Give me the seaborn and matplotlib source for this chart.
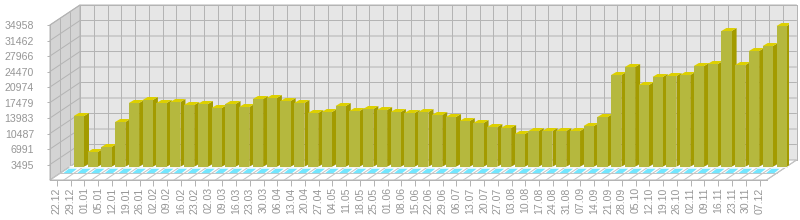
"""Weekly counts drawn as a fake-3D bar chart, with seaborn bars plus hand-made walls."""

import matplotlib
matplotlib.use("Agg")
import matplotlib.pyplot as plt
from matplotlib.patches import Polygon
import pandas as pd
import seaborn as sns

weeks = [
    "22.12", "29.12", "01.01", "05.01", "12.01", "19.01", "26.01", "02.02", "09.02", "16.02",
    "23.02", "02.03", "09.03", "16.03", "23.03", "30.03", "06.04", "13.04", "20.04", "27.04",
    "04.05", "11.05", "18.05", "25.05", "01.06", "08.06", "15.06", "22.06", "29.06", "06.07",
    "13.07", "20.07", "27.07", "03.08", "10.08", "17.08", "24.08", "31.08", "07.09", "14.09",
    "21.09", "28.09", "05.10", "12.10", "19.10", "26.10", "02.11", "09.11", "16.11", "23.11",
    "30.11", "07.12",
]
counts = [
    11433, 3315, 4442, 10080, 14364, 15041, 14364, 14590, 13913, 14139,
    13237, 14139, 13462, 15266, 15492, 14815, 14364, 12109, 12335, 13688,
    12560, 13011, 12786, 12335, 12109, 12335, 11658, 11207, 10305, 9854,
    8952, 8727, 7374, 8050, 8050, 8050, 8050, 9178, 11207, 20678,
    22482, 18423, 20227, 20453, 20678, 22708, 23159, 30600, 22933, 26090,
    27218, 31728,
]
y_ticks = [3495, 6991, 10487, 13983, 17479, 20974, 24470, 27966, 31462, 34958]

W, H = 800, 220
GRID = "#b4b4b4"
FLOOR_GRID = "#c4c4c4"
TEXT = "#969696"
FRONT = "#b5b83e"
TOP = "#ddd000"
SIDE = "#a39b00"
SHADOW = "#72e6ff"
PX = 0.72  # one pixel in points

sns.set_style("white")
plt.rcParams["font.family"] = ["Liberation Sans", "DejaVu Sans"]

df = pd.DataFrame({"week": weeks, "count": counts})
fig = plt.figure(figsize=(W / 100, H / 100), dpi=100, facecolor="white")


def pix_axes(left, top, right, bottom):
    return fig.add_axes([left / W, 1 - bottom / H, (right - left) / W, (bottom - top) / H])


# pixel canvas for walls and floor
bg = pix_axes(0, 0, W, H)
bg.set_xlim(0, W)
bg.set_ylim(H, 0)
bg.axis("off")

# front plane carries the ticks, bars sit on a plane shifted into the depth
LEFT, RIGHT, TOP_Y, BOTTOM_Y = 50, 766.5, 25, 180
DX, DY = 30, 20
step = (RIGHT - LEFT) / len(weeks)
unit = (BOTTOM_Y - TOP_Y) / y_ticks[-1]

bg.add_patch(Polygon([(LEFT + DX, TOP_Y - DY), (RIGHT + DX, TOP_Y - DY), (RIGHT + DX, BOTTOM_Y - DY), (LEFT + DX, BOTTOM_Y - DY)],
                     fc="#e6e6e6", ec=GRID, lw=PX))
bg.add_patch(Polygon([(LEFT, TOP_Y), (LEFT + DX, TOP_Y - DY), (LEFT + DX, BOTTOM_Y - DY), (LEFT, BOTTOM_Y)],
                     fc="#d4d4d4", ec=GRID, lw=PX))
bg.add_patch(Polygon([(LEFT, BOTTOM_Y), (LEFT + DX, BOTTOM_Y - DY), (RIGHT + DX, BOTTOM_Y - DY), (RIGHT, BOTTOM_Y)],
                     fc="white", ec=GRID, lw=PX))

for v in y_ticks:
    py = BOTTOM_Y - v * unit
    bg.plot([LEFT, LEFT + DX, RIGHT + DX], [py, py - DY, py - DY], color=GRID, lw=PX)
for frac in (1 / 3, 2 / 3):
    bg.plot([LEFT + DX * frac] * 2, [TOP_Y - DY * frac, BOTTOM_Y - DY * frac], color=GRID, lw=PX)
    bg.plot([LEFT + DX * frac, RIGHT + DX * frac], [BOTTOM_Y - DY * frac] * 2, color=FLOOR_GRID, lw=PX)
for i in range(len(weeks) + 1):
    px = LEFT + step * i
    bg.plot([px + DX, px + DX], [TOP_Y - DY, BOTTOM_Y - DY], color=GRID, lw=PX)
    bg.plot([px, px + DX], [BOTTOM_Y, BOTTOM_Y - DY], color=FLOOR_GRID, lw=PX)

# axes with ticks and labels
ax_front = pix_axes(LEFT, TOP_Y, RIGHT, BOTTOM_Y)
ax_front.patch.set_alpha(0)
ax_front.set_xlim(-0.5, len(weeks) - 0.5)
ax_front.set_ylim(0, y_ticks[-1])
ax_front.set_yticks(y_ticks)
ax_front.set_yticklabels([str(v) for v in y_ticks])
ax_front.set_xticks(range(len(weeks)))
ax_front.set_xticklabels(weeks, rotation=90)
ax_front.tick_params(axis="both", color=GRID, labelcolor=TEXT, labelsize=7.6, width=PX, bottom=True, left=True)
ax_front.tick_params(axis="y", length=2.5, pad=9)
ax_front.tick_params(axis="x", length=4.3, pad=1)
for name, spine in ax_front.spines.items():
    spine.set_visible(name in ("left", "bottom"))
    spine.set_color(GRID)
    spine.set_linewidth(PX)

# bars, sitting in the middle of the floor
BAR_DX, BAR_DY = 22, 13.3
ax = pix_axes(LEFT + BAR_DX, TOP_Y - BAR_DY, RIGHT + BAR_DX, BOTTOM_Y - BAR_DY)
sns.barplot(data=df, x="week", y="count", color=FRONT, saturation=1, width=0.74, ax=ax, zorder=4)
ax.set_xlim(-0.5, len(weeks) - 0.5)
ax.set_ylim(0, y_ticks[-1])
ax.axis("off")
ax.patch.set_alpha(0)

# side and top faces in pixel units, from what the bars really are
to_px = ax.transData + bg.transData.inverted()
depth_x, depth_y = 5, 3
for bar in ax.patches:
    (x0, y0), (x1, y1) = to_px.transform([(bar.get_x(), 0), (bar.get_x() + bar.get_width(), bar.get_height())])
    bar.set_linewidth(0)
    side = [(x1, y1), (x1 + depth_x, y1 - depth_y), (x1 + depth_x, y0 - depth_y), (x1, y0)]
    top = [(x0, y1), (x0 + depth_x, y1 - depth_y), (x1 + depth_x, y1 - depth_y), (x1, y1)]
    ax.add_patch(Polygon(side, fc=SIDE, ec="none", transform=bg.transData, zorder=3))
    ax.add_patch(Polygon(top, fc=TOP, ec="none", transform=bg.transData, zorder=3))
    # cyan shadow on the floor
    shadow = [(x0 - 10.5, y0 + 6.5), (x0 - 5, y0 + 2), (x1 - 7, y0 + 2), (x1 - 12.5, y0 + 6.5)]
    bg.add_patch(Polygon(shadow, fc=SHADOW, ec="none", zorder=3))

bg.plot([LEFT + 20, RIGHT + 20], [BOTTOM_Y - 13.3] * 2, color="white", lw=1.2, zorder=3)

fig.savefig("out.png", dpi=100)
